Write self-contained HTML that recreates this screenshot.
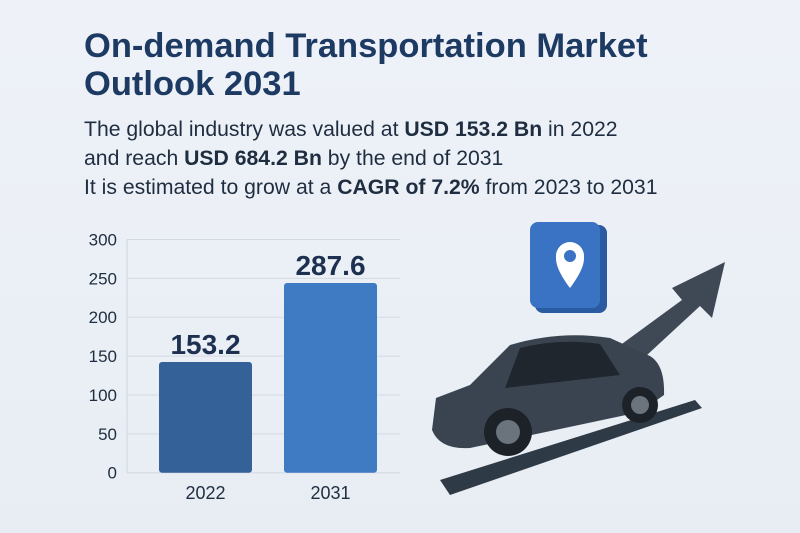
<!DOCTYPE html>
<html><head><meta charset="utf-8"><style>
body{margin:0;width:800px;height:533px;overflow:hidden;background:linear-gradient(180deg,#eef2f8,#e8edf4);font-family:"Liberation Sans",sans-serif;position:relative}
h1{position:absolute;left:84px;top:27px;margin:0;font-size:34.5px;line-height:38px;color:#1d3a63;font-weight:bold;width:640px}
.sub{position:absolute;left:84px;top:115px;font-size:21.2px;line-height:29px;color:#1f2d40}
.sub b{font-weight:bold}
</style></head><body>
<h1>On-demand Transportation Market Outlook 2031</h1>
<div class="sub">The global industry was valued at <b>USD 153.2 Bn</b> in 2022<br>and reach <b>USD 684.2 Bn</b> by the end of 2031<br>It is estimated to grow at a <b>CAGR of 7.2%</b> from 2023 to 2031</div>
<svg id="chart" width="800" height="533" style="position:absolute;left:0;top:0">
<g>
<polygon points="440,480 695,400 702,408 450,495" fill="#2f3a47"/>
<path d="M600,360 L682,300 L672,288 L725,262 L712,318 L700,306 L620,380 Z" fill="#3e4955"/>
<rect x="535" y="225" width="72" height="88" rx="8" fill="#2a5aa0"/>
<rect x="530" y="222" width="70" height="86" rx="8" fill="#3a72c4"/>
<path d="M570,288 C555,268 556,260 556,256 A14,14 0 0 1 584,256 C584,260 585,268 570,288 Z" fill="#fff"/>
<circle cx="570" cy="256" r="6" fill="#3a72c4"/>
<path d="M432,430 L436,398 L470,385 L510,345 Q560,330 610,338 L650,356 Q665,365 664,395 L640,412 L470,448 Q440,450 432,430 Z" fill="#3a4450"/>
<path d="M520,348 Q560,338 600,344 L620,375 L505,388 Z" fill="#1f262e"/>
<circle cx="508" cy="432" r="24" fill="#1c2228"/><circle cx="508" cy="432" r="12" fill="#6b737c"/>
<circle cx="640" cy="405" r="18" fill="#1c2228"/><circle cx="640" cy="405" r="9" fill="#6b737c"/>
</g>
<g id="plot"></g>
</svg>
<script>
const categories=["2022","2031"];
const barValues=[142.4,244];
const valueLabels=["153.2","287.6"];
const yTicks=[0,50,100,150,200,250,300];
const plot=document.getElementById('plot');
const NS="http://www.w3.org/2000/svg";
const y0=472.7,yTop=239.5,yMax=300;
const y=v=>y0-(v/yMax)*(y0-yTop);
const xs=[159,284],bw=93;
function mk(t,a){const e=document.createElementNS(NS,t);for(const k in a)e.setAttribute(k,a[k]);plot.appendChild(e);return e;}
yTicks.forEach(t=>{
 const l=mk('line',{x1:127,x2:400,y1:y(t),y2:y(t),stroke:'#d3d9e2','stroke-width':1});
 
 
 const tx=mk('text',{x:117,y:y(t)+6,'text-anchor':'end','font-size':17,fill:'#1f2d40','font-family':'Liberation Sans'});
 tx.textContent=t;
 
 
});
const ax=mk('line',{x1:127,x2:127,y1:yTop,y2:y0,stroke:'#cfd6df'});


const colors=['#346197','#3f7bc2'];
categories.forEach((c,i)=>{
 const r=mk('rect',{x:xs[i],y:y(barValues[i]),width:bw,height:y0-y(barValues[i]),rx:3,fill:colors[i]});
 
 
 const v=mk('text',{x:xs[i]+bw/2,y:y(barValues[i])-8,'text-anchor':'middle','font-size':28,'font-weight':'bold',fill:'#1d3050','font-family':'Liberation Sans'});
 v.textContent=valueLabels[i];
 
 
 const xl=mk('text',{x:xs[i]+bw/2,y:499,'text-anchor':'middle','font-size':18,fill:'#1f2d40','font-family':'Liberation Sans'});
 xl.textContent=c;
 
 
});
</script>
</body></html>
